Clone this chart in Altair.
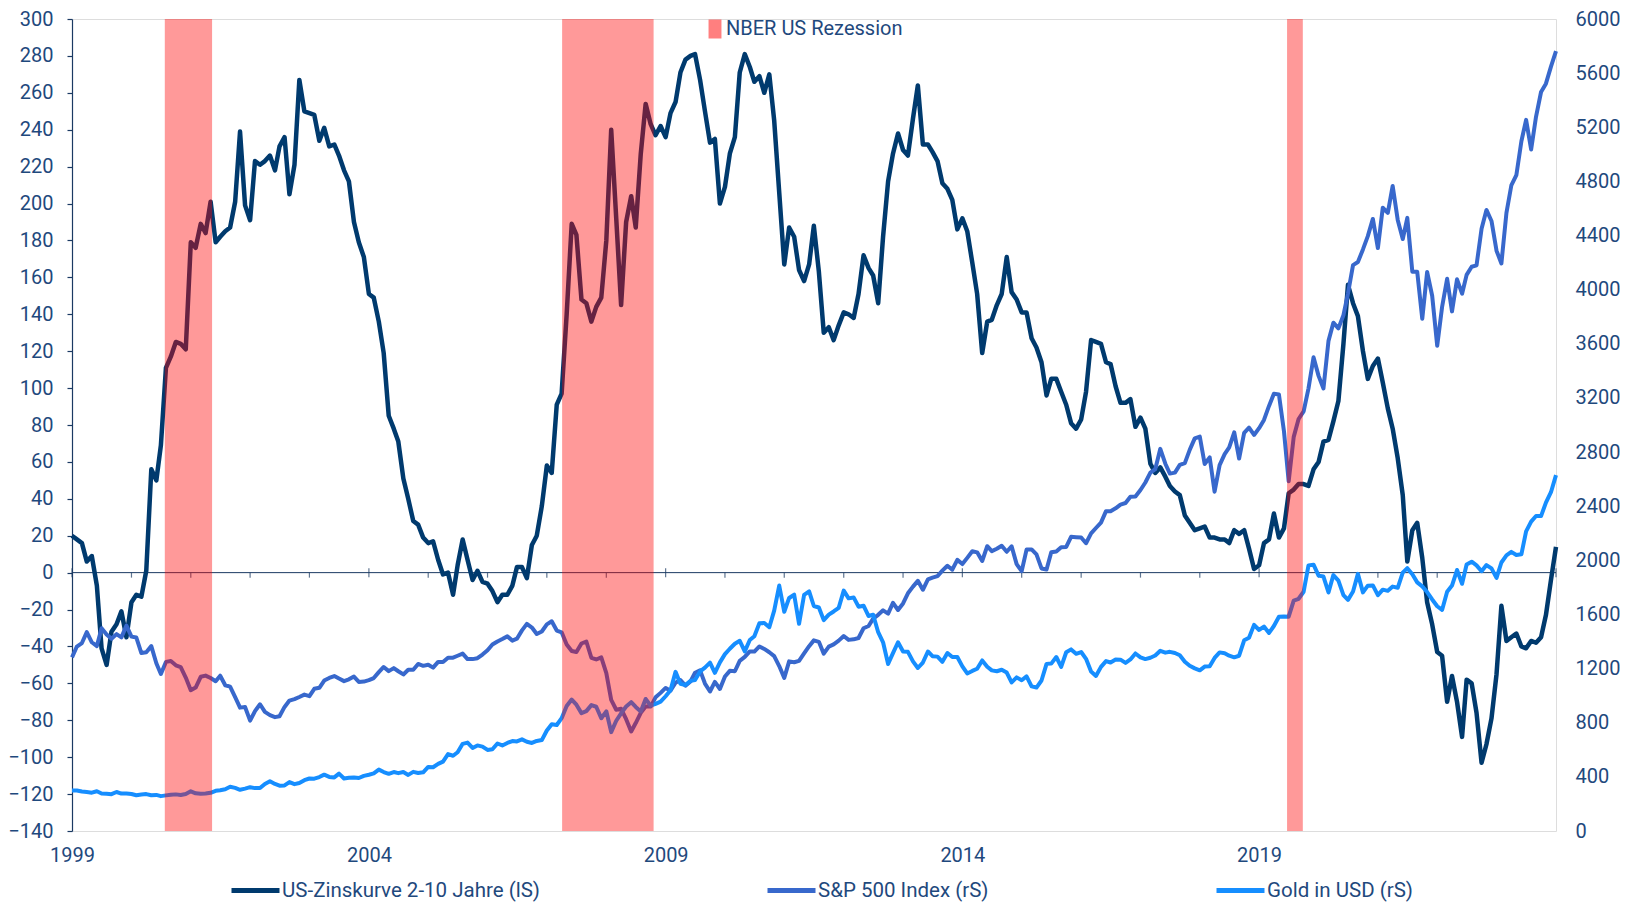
import altair as alt
import pandas as pd

# ---------------- data (monthly, Sep 1999 - Sep 2024) ----------------
months = pd.date_range("1999-09-01", "2024-09-01", freq="MS").strftime("%Y-%m-%d").tolist()

spread = [
    20, 18, 16, 6, 9, -7, -41, -50, -32, -28, -21, -35, -16, -12, -13, 1, 56, 50, 69, 111,
    117, 125, 124, 121, 179, 176, 189, 184, 201, 179, 182, 185, 187, 201, 239, 199, 191, 223, 221, 223,
    226, 218, 231, 236, 205, 221, 267, 250, 249, 248, 234, 241, 231, 232, 226, 218,
    212, 190, 179, 171, 151, 149, 136, 119, 85, 78, 71, 51, 40, 28, 26, 19, 16, 17, 7, -1,
    0, -12, 4, 18, 7, -4, 1, -5, -6, -10, -16, -12, -12, -7, 3, 3, -3, 15, 20, 36,
    58, 54, 91, 97, 140, 189, 183, 148, 146, 136, 144, 149,
    180, 240, 192, 145, 190, 204, 187, 227, 254, 243, 237, 242, 236, 249, 255, 271, 278, 280, 281, 267,
    250, 233, 235, 200, 209, 227, 236, 271, 281, 274, 266, 269, 260, 270, 245, 206, 167, 187, 182, 164,
    158, 167, 188, 163, 130, 133, 126, 134,
    141, 140, 138, 151, 172, 165, 161, 146, 182, 212, 227, 238, 229, 226, 246, 264, 232, 232, 228, 223,
    211, 208, 202, 186, 192, 185, 168, 151, 119, 136, 137, 145, 151, 171, 152, 148, 141, 141, 127, 122,
    114, 96, 105, 105, 98, 91, 81, 78, 83, 98, 126, 125, 124,
    114, 113, 101, 92, 92, 94, 79, 84, 78, 59, 54, 57, 52, 47, 44, 42, 31, 27, 23, 24,
    25, 19, 19, 18, 18, 16, 23, 21, 23, 13, 2, 4, 16, 18, 32, 19, 24, 43, 45, 48,
    48, 47, 56, 60, 71, 72, 82, 93, 124, 156, 146, 139, 120, 105, 112, 116, 103,
    89, 78, 62, 42, 6, 23, 27, 8, -16, -28, -43, -45, -70, -56, -70, -89, -58, -60, -76, -103,
    -93, -79, -55, -18, -37, -35, -33, -40, -41, -37, -38, -35, -23, -4, 14,
]

sp500 = [
    1282.7, 1362.9, 1388.9, 1469.3,
    1394.5, 1366.4, 1498.6, 1452.4, 1420.6, 1454.6, 1430.8, 1517.7, 1436.5, 1429.4, 1315.2, 1320.3,
    1366.0, 1239.9, 1160.3, 1249.5, 1255.8, 1224.4, 1211.2, 1133.6, 1040.9, 1059.8, 1139.5, 1148.1,
    1130.2, 1106.7, 1147.4, 1076.9, 1067.1, 989.8, 911.6, 916.1, 815.3, 885.8, 936.3, 879.8,
    855.7, 841.2, 848.2, 916.9, 963.6, 974.5, 990.3, 1008.0, 996.0, 1050.7, 1058.2, 1111.9,
    1131.1, 1144.9, 1126.2, 1107.3, 1120.7, 1140.8, 1101.7, 1104.2, 1114.6, 1130.2, 1173.8, 1211.9,
    1181.3, 1203.6, 1180.6, 1156.9, 1191.5, 1191.3, 1234.2, 1220.3, 1228.8, 1207.0, 1249.5, 1248.3,
    1280.1, 1280.7, 1294.9, 1310.6, 1270.1, 1270.2, 1276.7, 1303.8, 1335.9, 1377.9, 1400.6, 1418.3,
    1438.2, 1406.8, 1420.9, 1482.4, 1530.6, 1503.4, 1455.3, 1474.0, 1526.8, 1549.4, 1481.1, 1468.4,
    1378.6, 1330.6, 1322.7, 1385.6, 1400.4, 1280.0, 1267.4, 1282.8, 1166.4, 968.8, 896.2, 903.3,
    825.9, 735.1, 797.9, 872.8, 919.1, 919.3, 987.5, 1020.6, 1057.1, 1036.2, 1095.6, 1115.1,
    1073.9, 1104.5, 1169.4, 1186.7, 1089.4, 1030.7, 1101.6, 1049.3, 1141.2, 1183.3, 1180.6, 1257.6,
    1286.1, 1327.2, 1325.8, 1363.6, 1345.2, 1320.6, 1292.3, 1218.9, 1131.4, 1253.3, 1247.0, 1257.6,
    1312.4, 1365.7, 1408.5, 1397.9, 1310.3, 1362.2, 1379.3, 1406.6, 1440.7, 1412.2, 1416.2, 1426.2,
    1498.1, 1514.7, 1569.2, 1597.6, 1630.7, 1606.3, 1685.7, 1633.0, 1681.6, 1756.5, 1805.8, 1848.4,
    1782.6, 1859.5, 1872.3, 1883.9, 1923.6, 1960.2, 1930.7, 2003.4, 1972.3, 2018.1, 2067.6, 2058.9,
    1995.0, 2104.5, 2067.9, 2085.5, 2107.4, 2063.1, 2103.8, 1972.2, 1920.0, 2079.4, 2080.4, 2043.9,
    1940.2, 1932.2, 2059.7, 2065.3, 2097.0, 2098.9, 2173.6, 2171.0, 2168.3, 2126.2, 2199.0, 2238.8,
    2278.9, 2363.6, 2362.7, 2384.2, 2411.8, 2423.4, 2470.3, 2471.7, 2519.4, 2575.3, 2647.6, 2673.6,
    2823.8, 2713.8, 2640.9, 2648.1, 2705.3, 2718.4, 2816.3, 2901.5, 2914.0, 2711.7, 2760.2, 2506.9,
    2704.1, 2784.5, 2834.4, 2945.8, 2752.1, 2941.8, 2980.4, 2926.5, 2976.7, 3037.6, 3141.0, 3230.8,
    3225.5, 2954.2, 2584.6, 2912.4, 3044.3, 3100.3, 3271.1, 3500.3, 3363.0, 3270.0, 3621.6, 3756.1,
    3714.2, 3811.2, 3972.9, 4181.2, 4204.1, 4297.5, 4395.3, 4522.7, 4307.5, 4605.4, 4567.0, 4766.2,
    4515.6, 4373.9, 4530.4, 4131.9, 4132.2, 3785.4, 4130.3, 3955.0, 3585.6, 3872.0, 4080.1, 3839.5,
    4076.6, 3970.2, 4109.3, 4169.5, 4179.8, 4450.4, 4589.0, 4507.7, 4288.1, 4193.8, 4567.8, 4769.8,
    4845.7, 5096.3, 5254.4, 5035.7, 5277.5, 5460.5, 5522.3, 5648.4, 5762.5,
]

gold = [
    299.0, 299.1, 291.4, 287.8,
    283.3, 293.7, 276.8, 275.1, 272.3, 288.2, 276.8, 277.0, 273.7, 264.5, 269.1, 272.7,
    264.5, 266.7, 257.7, 263.2, 267.5, 270.6, 265.9, 273.0, 293.1, 278.8, 275.5, 276.5,
    282.3, 296.9, 301.4, 308.2, 326.6, 318.5, 304.7, 312.8, 323.7, 316.9, 317.1, 347.2,
    367.5, 347.5, 334.9, 336.8, 361.4, 346.0, 354.8, 375.6, 388.0, 386.3, 398.4, 416.3,
    399.8, 395.9, 423.7, 388.5, 393.3, 395.8, 391.4, 407.3, 415.7, 425.6, 453.4, 435.6,
    422.2, 435.5, 427.5, 435.7, 414.5, 437.1, 429.0, 433.3, 473.3, 470.8, 495.7, 513.0,
    568.8, 556.0, 582.0, 644.0, 653.0, 613.5, 632.5, 623.5, 599.3, 603.8, 646.7, 632.0,
    650.5, 664.2, 661.8, 677.0, 659.1, 650.5, 665.5, 672.0, 743.0, 789.5, 783.5, 833.8,
    923.3, 971.5, 933.5, 871.0, 885.8, 930.3, 918.0, 833.0, 884.5, 730.8, 814.5, 869.8,
    919.5, 952.0, 916.5, 883.3, 975.5, 926.0, 939.0, 955.5, 995.8, 1040.0, 1175.8, 1087.5,
    1078.5, 1109.5, 1115.5, 1179.3, 1207.5, 1244.0, 1169.0, 1246.0, 1307.0, 1346.8, 1383.5, 1405.5,
    1327.0, 1411.0, 1439.0, 1535.5, 1536.5, 1505.5, 1628.5, 1813.5, 1620.0, 1722.0, 1746.0, 1531.0,
    1744.0, 1770.0, 1662.5, 1651.3, 1558.0, 1598.5, 1622.0, 1648.5, 1776.0, 1719.0, 1726.0, 1657.5,
    1664.8, 1588.5, 1598.3, 1469.0, 1394.5, 1234.5, 1314.5, 1394.8, 1326.5, 1324.0, 1253.0, 1204.5,
    1244.8, 1326.5, 1291.8, 1288.5, 1250.5, 1315.0, 1285.3, 1285.8, 1216.5, 1164.3, 1182.8, 1199.3,
    1260.3, 1214.0, 1187.0, 1180.3, 1191.4, 1171.0, 1098.4, 1135.0, 1114.0, 1142.4, 1068.3, 1060.0,
    1111.8, 1234.9, 1237.0, 1285.7, 1212.1, 1320.8, 1342.0, 1309.3, 1322.5, 1272.0, 1178.1, 1145.9,
    1212.8, 1255.6, 1244.9, 1266.5, 1266.2, 1242.3, 1267.6, 1311.8, 1283.1, 1270.2, 1280.2, 1296.5,
    1331.3, 1317.9, 1323.9, 1315.1, 1298.3, 1250.5, 1220.5, 1201.5, 1187.3, 1214.9, 1217.6, 1279.0,
    1319.8, 1313.3, 1295.4, 1283.4, 1295.0, 1409.0, 1427.6, 1523.0, 1485.3, 1510.9, 1463.9, 1514.8,
    1582.6, 1585.7, 1583.4, 1702.8, 1715.9, 1768.1, 1962.8, 1967.7, 1886.9, 1879.9, 1762.5, 1891.1,
    1850.3, 1743.3, 1707.7, 1769.1, 1899.9, 1763.2, 1812.9, 1814.9, 1742.8, 1783.4, 1774.5, 1805.9,
    1797.2, 1908.9, 1942.2, 1896.9, 1837.3, 1807.3, 1765.9, 1711.0, 1660.6, 1633.6, 1768.5, 1813.8,
    1928.4, 1826.9, 1969.3, 1990.0, 1962.7, 1919.4, 1965.1, 1940.2, 1870.1, 1983.9, 2036.4, 2062.4,
    2039.5, 2044.3, 2214.4, 2286.3, 2327.3, 2326.8, 2426.9, 2503.4, 2629.3,
]

rec_start = ["2001-03-25", "2007-12-04", "2020-02-20"]
rec_end = ["2002-01-10", "2009-06-19", "2020-05-27"]

year_ticks = [f"{y}-09-01" for y in range(1999, 2025)]
major_ticks = [f"{y}-09-01" for y in range(1999, 2025, 5)]
label_years = [1999, 2004, 2009, 2014, 2019]

S1 = "US-Zinskurve 2-10 Jahre (lS)"
S2 = "S&P 500 Index (rS)"
S3 = "Gold in USD  (rS)"
REC = "NBER US Rezession"

# ---------------- styling ----------------
TXT = "#1F497D"
AXC = "#1B3A63"
C1, C2, C3 = "#003A6E", "#3868CC", "#168EFF"
FONT = "Roboto"

df = pd.concat([
    pd.DataFrame({"date": months, "series": S1, "value": spread}),
    pd.DataFrame({"date": months, "series": S2, "value": sp500}),
    pd.DataFrame({"date": months, "series": S3, "value": gold}),
], ignore_index=True)
bands = pd.DataFrame({"start": rec_start, "end": rec_end, "label": REC})
minor_df = pd.DataFrame({"tick": [t for t in year_ticks if t not in major_ticks], "v": 0})
major_df = pd.DataFrame({"tick": major_ticks, "v": 0})
zero_df = pd.DataFrame({"v": [0]})

xscale = alt.Scale(type="utc",
                   domain=[alt.DateTime(year=1999, month=9, date=1, utc=True),
                           alt.DateTime(year=2024, month=9, date=1, utc=True)])
xaxis = alt.Axis(values=[alt.DateTime(year=y, month=9, date=1, utc=True) for y in label_years],
                 labelExpr="utcFormat(datum.value, '%Y')", title=None, domain=False, ticks=False,
                 grid=False, labelFontSize=20, labelColor=TXT, labelFont=FONT, labelPadding=14,
                 labelFlush=False, labelOverlap=False)

lscale = alt.Scale(domain=[-140, 300], nice=False, zero=False)
rscale = alt.Scale(domain=[0, 6000], nice=False, zero=False)

laxis = alt.Axis(orient="left", values=list(range(-140, 301, 20)), title=None, grid=False,
                 domain=True, domainColor=AXC, domainWidth=1.2, tickColor=AXC, tickSize=5,
                 tickWidth=1.2, labelPadding=14, labelFontSize=20, labelColor=TXT,
                 labelFont=FONT, format="d", labelOverlap=False)
raxis = alt.Axis(orient="right", values=list(range(0, 6001, 400)), title=None, grid=False, domain=False,
                 ticks=False, labelPadding=19, labelFontSize=20, labelColor=TXT, labelFont=FONT,
                 format="d", labelOverlap=False)

color_scale = alt.Scale(domain=[S1, S2, S3], range=[C1, C2, C3])
line_legend = alt.Legend(title=None, orient="none", legendX=157, legendY=845, direction="horizontal",
                         columns=3, symbolType="stroke", symbolSize=2304, symbolStrokeWidth=5,
                         labelFontSize=20.5, labelColor=TXT, labelFont=FONT, labelOffset=0,
                         columnPadding=217, padding=0, labelLimit=500)

base = alt.Chart(df)

zero_rule = alt.Chart(zero_df).mark_rule(color=AXC, strokeWidth=1).encode(
    y=alt.Y("v:Q", scale=lscale, axis=laxis))

minor_tick = alt.Chart(minor_df).mark_tick(orient="vertical", size=5, thickness=1.2, color=AXC,
                                           yOffset=2.5).encode(
    x=alt.X("tick:T", scale=xscale, axis=xaxis),
    y=alt.Y("v:Q", scale=lscale, axis=laxis))
major_tick = alt.Chart(major_df).mark_tick(orient="vertical", size=9, thickness=1.2, color=AXC).encode(
    x=alt.X("tick:T", scale=xscale, axis=xaxis),
    y=alt.Y("v:Q", scale=lscale, axis=laxis))

spread_line = base.transform_filter(alt.datum.series == S1).mark_line(
    strokeWidth=4.5, strokeJoin="round").encode(
    x=alt.X("date:T", scale=xscale, axis=xaxis),
    y=alt.Y("value:Q", scale=lscale, axis=laxis),
    color=alt.Color("series:N", scale=color_scale, legend=line_legend),
)

left = alt.layer(zero_rule, minor_tick, major_tick, spread_line)

sp_line = base.transform_filter(alt.datum.series == S2).mark_line(
    strokeWidth=4, strokeJoin="round").encode(
    x=alt.X("date:T", scale=xscale, axis=xaxis),
    y=alt.Y("value:Q", scale=rscale, axis=raxis),
    color=alt.Color("series:N", scale=color_scale, legend=line_legend),
)
gold_line = base.transform_filter(alt.datum.series == S3).mark_line(
    strokeWidth=4, strokeJoin="round").encode(
    x=alt.X("date:T", scale=xscale, axis=xaxis),
    y=alt.Y("value:Q", scale=rscale, axis=raxis),
    color=alt.Color("series:N", scale=color_scale, legend=line_legend),
)
right = alt.layer(sp_line, gold_line)

band_layer = alt.Chart(bands).mark_rect(opacity=0.4).encode(
    x=alt.X("start:T", scale=xscale, axis=xaxis),
    x2="end:T",
    fill=alt.Fill("label:N", scale=alt.Scale(domain=[REC], range=["#FF0000"]),
                  legend=alt.Legend(title=None, orient="none", legendX=633, legendY=0,
                                    symbolType="M-0.68,-1H0.68V1H-0.68Z", symbolSize=361,
                                    symbolOpacity=0.5, symbolStrokeWidth=0, labelFontSize=20,
                                    labelColor=TXT, labelFont=FONT, labelOffset=1, padding=0,
                                    labelLimit=500)),
)

chart = alt.layer(left, right, band_layer).resolve_scale(y="independent").properties(
    width=1484, height=812,
    autosize=alt.AutoSizeParams(type="none"),
    padding={"left": 64, "top": 11, "right": 71, "bottom": 72},
).configure_view(stroke=None).configure(font=FONT)

chart.save("out.html", embed_options={"renderer": "svg", "actions": False})
